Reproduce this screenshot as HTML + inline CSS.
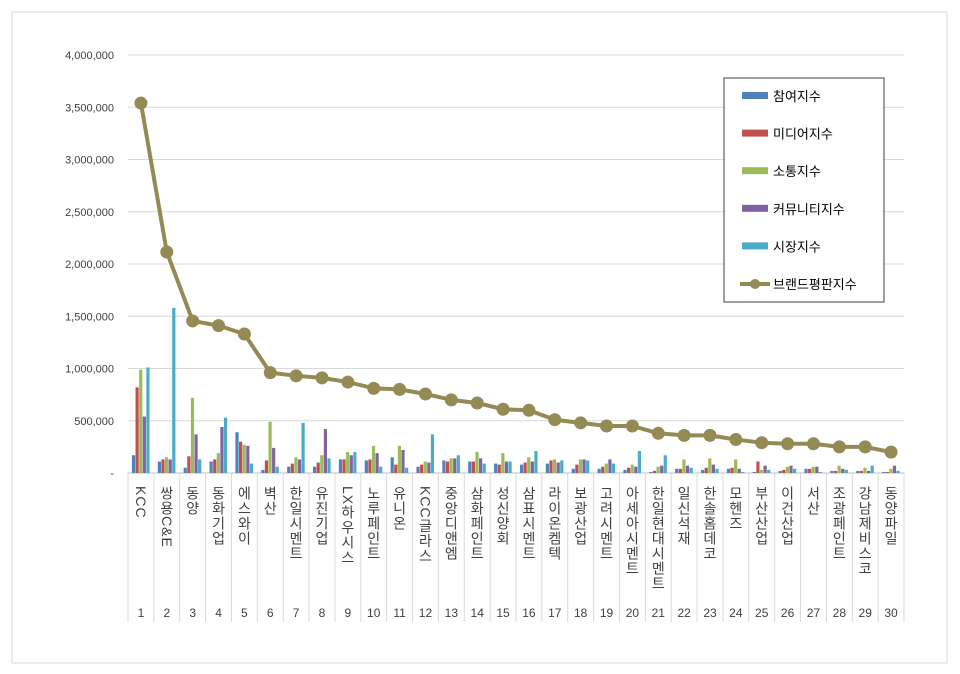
<!DOCTYPE html>
<html><head><meta charset="utf-8"><style>
body{margin:0;background:#fff;}
svg text{font-family:"Liberation Sans","Noto Sans CJK KR",sans-serif;}
.lab{position:absolute;writing-mode:vertical-rl;text-orientation:mixed;font-family:"Liberation Sans","Noto Sans CJK KR",sans-serif;font-size:14px;color:#404040;line-height:14px;letter-spacing:1px;}
</style></head><body>
<div style="position:relative;width:960px;height:674px;">
<svg id="c" width="960" height="674" style="position:absolute;left:0;top:0"></svg>
<div id="labs"></div>
</div>
<script>
const categories=["KCC","쌍용C&E","동양","동화기업","에스와이","벽산","한일시멘트","유진기업","LX하우시스","노루페인트","유니온","KCC글라스","중앙디앤엠","삼화페인트","성신양회","삼표시멘트","라이온켐텍","보광산업","고려시멘트","아세아시멘트","한일현대시멘트","일신석재","한솔홈데코","모헨즈","부산산업","이건산업","서산","조광페인트","강남제비스코","동양파일"];
const participation=[170,110,50,110,390,30,60,60,130,120,150,60,120,110,90,80,90,40,40,30,10,40,30,40,10,20,40,20,20,10];
const media=[820,130,160,130,300,120,90,100,130,130,80,80,110,110,80,100,120,80,60,50,20,40,50,50,110,30,40,20,20,10];
const communication=[990,150,720,190,270,490,150,170,200,260,260,110,140,200,190,150,130,130,90,80,60,130,140,130,30,60,60,70,50,40];
const community=[540,130,370,440,260,240,130,420,170,190,220,100,140,140,110,110,100,130,130,60,70,70,80,40,70,70,60,40,20,70];
const market=[1010,1580,130,530,90,60,480,140,200,60,50,370,170,90,110,210,120,120,90,210,170,50,40,10,30,40,10,30,70,20];
const brandIndex=[3540,2115,1455,1410,1330,960,930,910,870,810,800,756,700,670,610,600,510,480,450,450,380,360,360,320,290,280,280,250,250,200];
const yTicks=[0,500000,1000000,1500000,2000000,2500000,3000000,3500000,4000000];
const yTickLabels=["-","500,000","1,000,000","1,500,000","2,000,000","2,500,000","3,000,000","3,500,000","4,000,000"];
const seriesNames=["참여지수","미디어지수","소통지수","커뮤니티지수","시장지수","브랜드평판지수"];
const colors=["#4F81BD","#C0504D","#9BBB59","#8064A2","#4BACC6","#948A54"];
const NS="http://www.w3.org/2000/svg";
const svg=document.getElementById('c');
const x0=128,x1=904,y0=473,yTop=55;
const cw=(x1-x0)/categories.length;
function yv(v){return y0-(v/4000000)*(y0-yTop);}
function xc(i){return x0+cw*(i+0.5);}
function mk(t,a){const e=document.createElementNS(NS,t);for(const k in a)e.setAttribute(k,a[k]);svg.appendChild(e);return e;}
let r=mk('rect',{x:12,y:12,width:935,height:651,fill:'none',stroke:'#d9d9d9'});


yTicks.forEach((t,i)=>{
  if(i>0){let g=mk('line',{x1:x0,x2:x1,y1:yv(t),y2:yv(t),stroke:'#d9d9d9'});
  
  }
  let tx=mk('text',{x:114,y:yv(t)+4,'text-anchor':'end','font-size':11,fill:'#404040'});
  tx.textContent=yTickLabels[i];
  
  
});
let ax=mk('line',{x1:x0,x2:x1,y1:y0,y2:y0,stroke:'#bfbfbf'});


for(let i=0;i<=categories.length;i++){
  let l=mk('line',{x1:x0+cw*i,x2:x0+cw*i,y1:y0,y2:622,stroke:'#d9d9d9'});
  
  
}
const series=[participation,media,communication,community,market];
const bw=3.6;
categories.forEach((c,i)=>{
  series.forEach((s,j)=>{
    const v=s[i]*1000;
    let b=mk('rect',{x:xc(i)-2.5*bw+j*bw,y:yv(v),width:bw-0.4,height:y0-yv(v),fill:colors[j]});
    
    
  });
  let n=mk('text',{x:xc(i),y:617,'text-anchor':'middle','font-size':12,fill:'#404040'});
  n.textContent=String(i+1);
  
  
  const d=document.createElement('div');
  d.className='lab';
  d.textContent=c;
  d.style.left=(xc(i)-7)+'px';
  d.style.top='486px';
  
  
  document.getElementById('labs').appendChild(d);
});
let pts=brandIndex.map((v,i)=>xc(i)+','+yv(v*1000)).join(' ');
let pl=mk('polyline',{points:pts,fill:'none',stroke:colors[5],'stroke-width':4,'stroke-linejoin':'round'});


brandIndex.forEach((v,i)=>{
  let p=mk('circle',{cx:xc(i),cy:yv(v*1000),r:6.5,fill:colors[5]});
  
  
});
let lg=mk('rect',{x:724,y:78,width:160,height:224,fill:'#fff',stroke:'#404040'});


seriesNames.forEach((n,j)=>{
  const y=96+j*37.6;
  if(j<5){let s=mk('rect',{x:742,y:y-4,width:26,height:7,fill:colors[j]});
    
    }
  else{let s=mk('line',{x1:740,x2:770,y1:y,y2:y,stroke:colors[5],'stroke-width':4});
    
    
    let c=mk('circle',{cx:755,cy:y,r:5,fill:colors[5]});
    
    }
  let t=mk('text',{x:773,y:y+5,'font-size':13,fill:'#000'});
  t.textContent=n;
  
  
});
</script>
</body></html>
